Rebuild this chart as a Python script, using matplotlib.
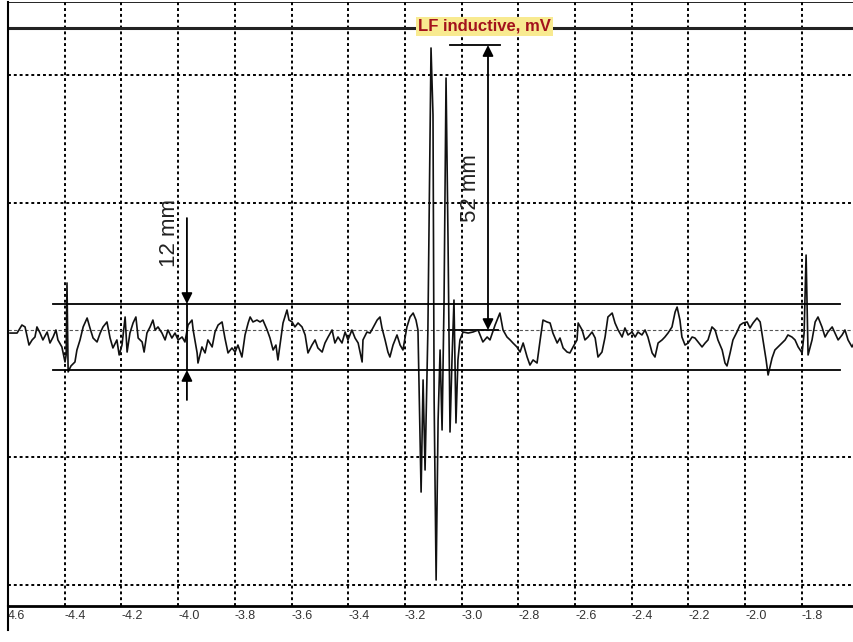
import matplotlib.pyplot as plt

# signal (x position, level in grid units)
sig_x = [-4.593, -4.568, -4.551, -4.540, -4.526, -4.515, -4.505, -4.498, -4.487, -4.477,
         -4.462, -4.452, -4.441, -4.431, -4.424, -4.410, -4.399, -4.395, -4.392, -4.388,
         -4.378, -4.364, -4.357, -4.346, -4.335, -4.321, -4.311, -4.300, -4.286, -4.275,
         -4.265, -4.251, -4.240, -4.230, -4.216, -4.208, -4.198, -4.187, -4.180, -4.170,
         -4.159, -4.149, -4.141, -4.127, -4.120, -4.110, -4.099, -4.089, -4.081, -4.071,
         -4.057, -4.046, -4.036, -4.022, -4.011, -4.000, -3.986, -3.976, -3.965, -3.951,
         -3.947, -3.933, -3.930, -3.916, -3.905, -3.895, -3.880, -3.870, -3.859, -3.845,
         -3.835, -3.824, -3.810, -3.799, -3.789, -3.775, -3.764, -3.753, -3.746, -3.736,
         -3.722, -3.711, -3.701, -3.686, -3.676, -3.665, -3.655, -3.648, -3.637, -3.630,
         -3.616, -3.609, -3.598, -3.588, -3.577, -3.563, -3.552, -3.542, -3.528, -3.517,
         -3.507, -3.492, -3.482, -3.471, -3.457, -3.447, -3.436, -3.422, -3.411, -3.401,
         -3.387, -3.376, -3.365, -3.351, -3.348, -3.334, -3.323, -3.313, -3.298, -3.288,
         -3.281, -3.270, -3.260, -3.253, -3.242, -3.228, -3.217, -3.207, -3.193, -3.182,
         -3.171, -3.161,
         -3.154, -3.143, -3.136, -3.129, -3.119, -3.108, -3.101, -3.097, -3.090, -3.083,
         -3.076, -3.069, -3.062, -3.055, -3.048, -3.041, -3.034, -3.027, -3.020, -3.013,
         -3.006, -2.995,
         -2.977, -2.960, -2.942, -2.925, -2.910, -2.900, -2.882, -2.865, -2.854, -2.840,
         -2.829, -2.819, -2.805, -2.794, -2.783, -2.769, -2.759, -2.748, -2.734, -2.723,
         -2.713, -2.699, -2.688, -2.678, -2.663, -2.653, -2.642, -2.628, -2.618, -2.607,
         -2.593, -2.589, -2.575, -2.565, -2.554, -2.540, -2.529, -2.519, -2.505, -2.494,
         -2.484, -2.469, -2.459, -2.448, -2.434, -2.424, -2.413, -2.399, -2.388, -2.378,
         -2.364, -2.353, -2.343, -2.328, -2.318, -2.307, -2.293, -2.283, -2.272, -2.258,
         -2.247, -2.240, -2.230, -2.223, -2.212, -2.201, -2.187, -2.177, -2.166, -2.152,
         -2.141, -2.131, -2.117, -2.106, -2.096, -2.081, -2.071, -2.064, -2.053, -2.043,
         -2.029, -2.018, -2.007, -1.993, -1.983, -1.972, -1.958, -1.947, -1.937, -1.926,
         -1.919, -1.905, -1.895, -1.884, -1.870, -1.859, -1.849, -1.835, -1.824, -1.813,
         -1.799, -1.792, -1.785, -1.778, -1.764, -1.753, -1.743, -1.729, -1.718, -1.708,
         -1.693, -1.683, -1.672, -1.658, -1.648, -1.637, -1.623, -1.616]
sig_y = [-0.024, -0.024, 0.039, 0.024, -0.118, -0.078, -0.055, 0.024, -0.024, -0.078,
         -0.016, -0.102, -0.055, 0.000, -0.078, -0.133, -0.251, -0.196, 0.369, -0.329,
         -0.282, -0.251, -0.157, -0.078, 0.024, 0.094, 0.016, -0.063, -0.094, -0.024,
         0.024, 0.063, -0.063, -0.141, -0.078, -0.196, -0.118, 0.102, -0.173, -0.024,
         0.055, 0.102, -0.063, -0.094, -0.173, -0.024, 0.024, 0.078, 0.000, 0.024,
         -0.024, -0.078, 0.000, -0.063, -0.024, -0.078, -0.055, -0.094, 0.039, 0.078,
         0.000, -0.180, -0.259, -0.133, -0.180, -0.078, -0.133, -0.016, 0.039, 0.063,
         -0.063, -0.180, -0.141, -0.173, -0.118, -0.212, -0.039, 0.055, 0.102, 0.063,
         0.078, 0.063, 0.078, 0.000, -0.063, -0.157, -0.118, -0.235, -0.055, 0.055,
         0.157, 0.078, 0.063, 0.024, 0.055, 0.024, -0.039, -0.180, -0.118, -0.078,
         -0.141, -0.173, -0.102, -0.055, 0.000, -0.102, -0.055, -0.102, -0.016, -0.078,
         0.000, -0.063, -0.102, -0.251, -0.078, -0.016, -0.024, 0.016, 0.078, 0.102,
         0.016, -0.078, -0.173, -0.212, -0.118, -0.039, -0.118, -0.157, 0.024, 0.102,
         0.133, 0.078,
         0.000, -1.271, -0.392, -1.098, 0.000, 2.212, 1.686, -0.549, -1.961, -0.706,
         -0.157, -0.784, 0.235, 1.976, 0.706, -0.800, -0.235, 0.235, -0.729, -0.235,
         -0.078, -0.016,
         -0.024, -0.016, 0.000, -0.094, -0.055, -0.078, 0.039, 0.133, 0.000, -0.055,
         -0.078, -0.102, -0.133, -0.173, -0.102, -0.212, -0.275, -0.235, -0.259, -0.078,
         0.078, 0.063, 0.055, -0.024, -0.102, -0.063, -0.141, -0.173, -0.180, -0.133,
         -0.078, 0.055, 0.000, -0.078, -0.055, -0.016, -0.063, -0.212, -0.173, -0.055,
         0.102, 0.133, 0.055, 0.000, -0.055, 0.016, -0.039, -0.016, -0.055, -0.016,
         -0.039, 0.000, -0.055, -0.180, -0.212, -0.102, -0.078, -0.055, -0.024, 0.024,
         0.141, 0.180, 0.078, -0.055, -0.118, -0.102, -0.055, -0.063, -0.094, -0.133,
         -0.102, -0.078, 0.024, 0.000, -0.078, -0.157, -0.259, -0.282, -0.180, -0.078,
         -0.016, 0.039, 0.055, 0.063, 0.016, 0.055, 0.094, 0.063, -0.078, -0.235,
         -0.353, -0.220, -0.157, -0.133, -0.102, -0.078, -0.039, -0.055, -0.078, -0.133,
         -0.180, -0.024, 0.588, -0.196, -0.078, 0.063, 0.102, 0.024, -0.055, -0.016,
         0.024, -0.024, -0.078, -0.039, 0.000, -0.078, -0.133, -0.102]

tick_pos = [-4.6, -4.4, -4.2, -4.0, -3.8, -3.6, -3.4, -3.2, -3.0, -2.8, -2.6, -2.4, -2.2, -2.0, -1.8]
tick_lab = ['4.6', '-4.4', '-4.2', '-4.0', '-3.8', '-3.6', '-3.4', '-3.2', '-3.0', '-2.8',
            '-2.6', '-2.4', '-2.2', '-2.0', '-1.8']
grid_y = [-2, -1, 1, 2]

band_top = 0.204
band_bot = -0.314
band_x = [-4.441, -1.665]

x12 = -3.969
x52 = -2.907
peak_top = 2.235
peak_base = 0.0

fig = plt.figure(figsize=(8.54, 6.42), dpi=100)
ax = fig.add_axes([0.0094, 0.0561, 0.9906, 0.9408])
ax.set_xlim(-4.6, -1.616)
ax.set_ylim(-2.165, 2.573)

# grid
for xv in tick_pos[1:]:
    ax.axvline(xv, color='black', lw=1.4, ls=(0, (1.5, 1.5)), zorder=1)
for yv in grid_y:
    ax.axhline(yv, color='black', lw=1.4, ls=(0, (1.5, 1.5)), zorder=1)
ax.axhline(0, color='#555555', lw=0.8, ls=(0, (3, 2)), zorder=1)

# top bar with title
ax.axhline(2.369, color='#222222', lw=2.2, zorder=2)
ax.text(-2.918, 2.384, 'LF inductive, mV', ha='center', va='center', fontsize=12,
        fontweight='bold', color='#a3121c', family='Liberation Sans',
        bbox=dict(facecolor='#f8ea90', edgecolor='none', pad=1.5), zorder=5)

# signal
ax.plot(sig_x, sig_y, color='#111111', lw=1.2, zorder=3)

# 12 mm band
ax.plot(band_x, [band_top, band_top], color='black', lw=1.3, zorder=3)
ax.plot(band_x, [band_bot, band_bot], color='black', lw=1.3, zorder=3)
arw = dict(arrowstyle='-|>', mutation_scale=16, color='black', lw=1.3, shrinkA=0, shrinkB=0)
ax.annotate('', xy=(x12, band_top), xytext=(x12, 0.878), arrowprops=arw)
ax.annotate('', xy=(x12, band_bot), xytext=(x12, -0.549), arrowprops=arw)
ax.plot([x12, x12], [band_top, band_bot], color='black', lw=1.3, zorder=3)
ax.text(-4.029, 0.761, '12 mm', rotation=90, ha='center', va='center', fontsize=16,
        color='#222222', family='Liberation Sans')

# 52 mm peak
ax.plot([-3.041, -2.865], [peak_top, peak_top], color='black', lw=1.3)
ax.plot([-3.048, -2.872], [peak_base, peak_base], color='black', lw=1.3)
arw2 = dict(arrowstyle='<|-|>', mutation_scale=16, color='black', lw=1.3, shrinkA=0, shrinkB=0)
ax.annotate('', xy=(x52, peak_top), xytext=(x52, peak_base), arrowprops=arw2)
ax.text(-2.970, 1.114, '52 mm', rotation=90, ha='center', va='center', fontsize=16,
        color='#222222', family='Liberation Sans')

# axes frame
ax.spines['right'].set_visible(False)
ax.spines['top'].set_linewidth(0.6)
ax.spines['bottom'].set_linewidth(2.0)
ax.spines['left'].set_linewidth(1.5)
ax.plot([-4.6, -4.6], [-2.165, -2.353], color='black', lw=1.5, clip_on=False)

ax.set_xticks(tick_pos)
ax.set_xticklabels(tick_lab, ha='left', fontsize=9, family='Liberation Sans', color='#333333')
ax.tick_params(axis='x', length=0, pad=3)
ax.set_yticks([])

fig.savefig('out.png', dpi=100)
